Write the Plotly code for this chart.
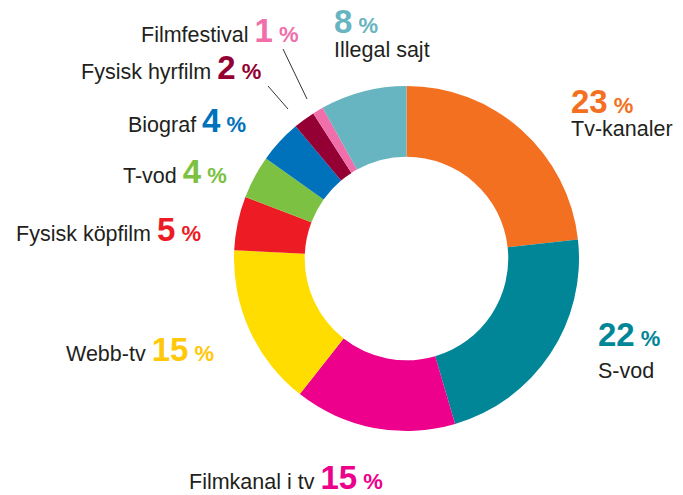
import plotly.graph_objects as go

W, H = 683, 495

# data, clockwise from 12 o'clock
labels = ["Tv-kanaler", "S-vod", "Filmkanal i tv", "Webb-tv", "Fysisk köpfilm",
          "T-vod", "Biograf", "Fysisk hyrfilm", "Filmfestival", "Illegal sajt"]
values = [23, 22, 15, 15, 5, 4, 4, 2, 1, 8]
colors = ["#F37021", "#008696", "#EC008C", "#FFDD00", "#ED1C24",
          "#7DC142", "#0072BC", "#940034", "#F06EAA", "#67B5C0"]
text_colors = ["#F37021", "#008696", "#EC008C", "#FFC80A", "#ED1C24",
               "#7DC142", "#0072BC", "#940034", "#F06EAA", "#67B5C0"]

DARK = "#231F20"
FONT = "Liberation Sans, Arial, sans-serif"


def px_x(x):
    return x / W


def px_y(y):
    return 1 - y / H


def num(v, c):
    return (f"<span style='font-size:33px;color:{c}'><b>{v}</b></span>"
            f"<span style='font-size:22px;color:{c}'><b> %</b></span>")


fig = go.Figure(go.Pie(
    labels=labels, values=values, sort=False, direction="clockwise", rotation=0,
    hole=0.59, marker=dict(colors=colors, line=dict(width=0)),
    textinfo="none", hoverinfo="label+percent", showlegend=False,
    domain=dict(x=[px_x(234), px_x(579)], y=[px_y(431), px_y(86)]),
))

# label positions (left edge, text baseline) in pixels
inline = {  # label then number on the same line
    "Filmfestival": (140, 41.5),
    "Fysisk hyrfilm": (80, 78),
    "Biograf": (127, 131.5),
    "T-vod": (122, 182.5),
    "Fysisk köpfilm": (15, 240),
    "Webb-tv": (65, 360),
    "Filmkanal i tv": (188, 488.5),
}
stacked = {  # number above, label below
    "Illegal sajt": (333, 32, 57),
    "Tv-kanaler": (570, 112, 136.5),
    "S-vod": (597, 345, 378),
}

anns = []
for lab, v, c in zip(labels, values, text_colors):
    if lab in inline:
        x, base = inline[lab]
        anns.append(dict(x=px_x(x), y=px_y(base - 10.8), xanchor="left", yanchor="middle",
                         text=f"{lab} " + num(v, c)))
    else:
        x, b1, b2 = stacked[lab]
        anns.append(dict(x=px_x(x), y=px_y(b1 - 10.8), xanchor="left", yanchor="middle",
                         text=num(v, c)))
        anns.append(dict(x=px_x(x), y=px_y(b2 - 7.3), xanchor="left", yanchor="middle",
                         text=lab))
for a in anns:
    a.update(xref="paper", yref="paper", showarrow=False, borderpad=0,
             font=dict(family=FONT, size=21.5, color=DARK))

# leader lines for the two thin slices
shapes = [
    dict(type="line", xref="paper", yref="paper", x0=px_x(283), y0=px_y(49),
         x1=px_x(307), y1=px_y(99), line=dict(color="#333333", width=1)),
    dict(type="line", xref="paper", yref="paper", x0=px_x(268), y0=px_y(86),
         x1=px_x(288), y1=px_y(109), line=dict(color="#333333", width=1)),
]

fig.update_layout(
    width=W, height=H, margin=dict(l=0, r=0, t=0, b=0),
    paper_bgcolor="white", plot_bgcolor="white",
    font=dict(family=FONT, color=DARK),
    annotations=anns, shapes=shapes,
)

# drop the default 8px page margin so the figure fills the window
fig.write_html("out.html", config={"displayModeBar": False},
               post_script="document.body.style.margin='0';")
